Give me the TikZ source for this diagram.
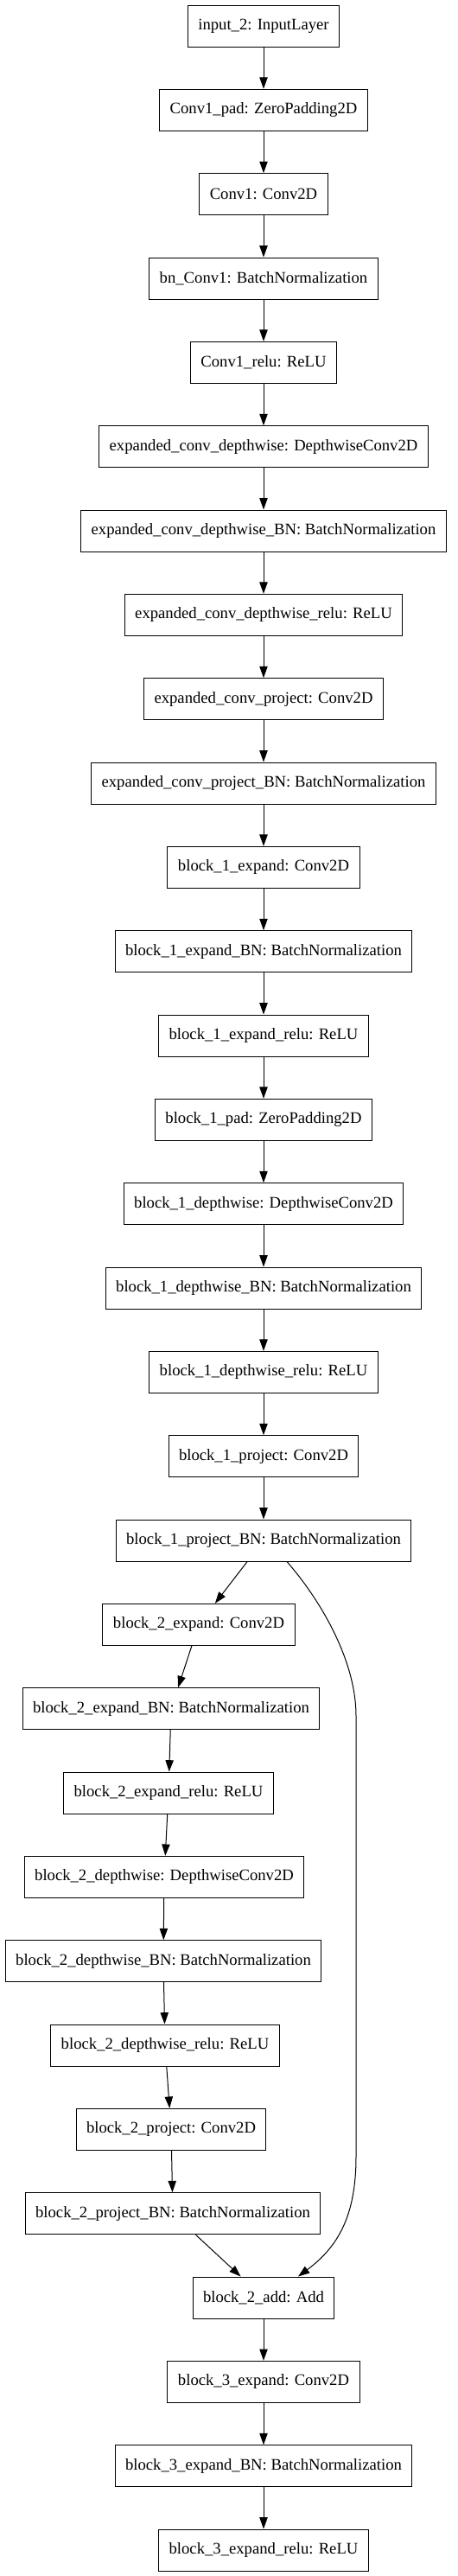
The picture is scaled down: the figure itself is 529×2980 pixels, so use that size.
\documentclass[tikz,border=0pt]{standalone}
\usepackage{fontspec}
\setmainfont{Liberation Serif}
\usepackage{tikz}
\usetikzlibrary{calc, arrows.meta}

\tikzset{
  layer/.style={draw, line width=0.75pt, minimum height=36pt, inner xsep=9pt, inner ysep=0pt,
    font=\fontsize{14}{16}\selectfont},
  edge/.style={line width=0.75pt, -{Triangle[length=10pt, width=7pt]}}
}

\begin{document}
\begin{tikzpicture}[x=0.75pt, y=-0.75pt]
  \useasboundingbox (0,0) rectangle (529,2980);
  % main chain
  \node[layer] (in2)       at (305,30)     {input\_2: InputLayer};
  \node[layer] (c1pad)     at (305,127.3)  {Conv1\_pad: ZeroPadding2D};
  \node[layer] (c1)        at (305,224.7)  {Conv1: Conv2D};
  \node[layer] (bnc1)      at (305,322)    {bn\_Conv1: BatchNormalization};
  \node[layer] (c1relu)    at (305,419.3)  {Conv1\_relu: ReLU};
  \node[layer] (ecdw)      at (305,516.7)  {expanded\_conv\_depthwise: DepthwiseConv2D};
  \node[layer] (ecdwbn)    at (305,614)    {expanded\_conv\_depthwise\_BN: BatchNormalization};
  \node[layer] (ecdwrelu)  at (305,711.3)  {expanded\_conv\_depthwise\_relu: ReLU};
  \node[layer] (ecproj)    at (305,808.7)  {expanded\_conv\_project: Conv2D};
  \node[layer] (ecprojbn)  at (305,906)    {expanded\_conv\_project\_BN: BatchNormalization};
  \node[layer] (b1exp)     at (305,1003.3) {block\_1\_expand: Conv2D};
  \node[layer] (b1expbn)   at (305,1100.7) {block\_1\_expand\_BN: BatchNormalization};
  \node[layer] (b1exprelu) at (305,1198)   {block\_1\_expand\_relu: ReLU};
  \node[layer] (b1pad)     at (305,1295.3) {block\_1\_pad: ZeroPadding2D};
  \node[layer] (b1dw)      at (305,1392.7) {block\_1\_depthwise: DepthwiseConv2D};
  \node[layer] (b1dwbn)    at (305,1490)   {block\_1\_depthwise\_BN: BatchNormalization};
  \node[layer] (b1dwrelu)  at (305,1587.3) {block\_1\_depthwise\_relu: ReLU};
  \node[layer] (b1proj)    at (305,1684.7) {block\_1\_project: Conv2D};
  \node[layer] (b1projbn)  at (305,1782)   {block\_1\_project\_BN: BatchNormalization};
  % block 2, shifted left
  \node[layer] (b2exp)     at (230,1879.3) {block\_2\_expand: Conv2D};
  \node[layer] (b2expbn)   at (198,1976.7) {block\_2\_expand\_BN: BatchNormalization};
  \node[layer] (b2exprelu) at (195,2074)   {block\_2\_expand\_relu: ReLU};
  \node[layer] (b2dw)      at (190,2171.3) {block\_2\_depthwise: DepthwiseConv2D};
  \node[layer] (b2dwbn)    at (189,2268.7) {block\_2\_depthwise\_BN: BatchNormalization};
  \node[layer] (b2dwrelu)  at (191,2366)   {block\_2\_depthwise\_relu: ReLU};
  \node[layer] (b2proj)    at (198,2463.3) {block\_2\_project: Conv2D};
  \node[layer] (b2projbn)  at (200,2560.7) {block\_2\_project\_BN: BatchNormalization};
  \node[layer] (b2add)     at (305,2658)   {block\_2\_add: Add};
  % block 3
  \node[layer] (b3exp)     at (305,2755.3) {block\_3\_expand: Conv2D};
  \node[layer] (b3expbn)   at (305,2852.7) {block\_3\_expand\_BN: BatchNormalization};
  \node[layer] (b3exprelu) at (305,2950)   {block\_3\_expand\_relu: ReLU};

  \draw[edge] (in2) -- (c1pad);
  \draw[edge] (c1pad) -- (c1);
  \draw[edge] (c1) -- (bnc1);
  \draw[edge] (bnc1) -- (c1relu);
  \draw[edge] (c1relu) -- (ecdw);
  \draw[edge] (ecdw) -- (ecdwbn);
  \draw[edge] (ecdwbn) -- (ecdwrelu);
  \draw[edge] (ecdwrelu) -- (ecproj);
  \draw[edge] (ecproj) -- (ecprojbn);
  \draw[edge] (ecprojbn) -- (b1exp);
  \draw[edge] (b1exp) -- (b1expbn);
  \draw[edge] (b1expbn) -- (b1exprelu);
  \draw[edge] (b1exprelu) -- (b1pad);
  \draw[edge] (b1pad) -- (b1dw);
  \draw[edge] (b1dw) -- (b1dwbn);
  \draw[edge] (b1dwbn) -- (b1dwrelu);
  \draw[edge] (b1dwrelu) -- (b1proj);
  \draw[edge] (b1proj) -- (b1projbn);
  \draw[edge] (b1projbn) -- (b2exp);
  \draw[edge] (b2exp) -- (b2expbn);
  \draw[edge] (b2expbn) -- (b2exprelu);
  \draw[edge] (b2exprelu) -- (b2dw);
  \draw[edge] (b2dw) -- (b2dwbn);
  \draw[edge] (b2dwbn) -- (b2dwrelu);
  \draw[edge] (b2dwrelu) -- (b2proj);
  \draw[edge] (b2proj) -- (b2projbn);
  \draw[edge] (b2projbn) -- (b2add);
  \draw[edge] (b2add) -- (b3exp);
  \draw[edge] (b3exp) -- (b3expbn);
  \draw[edge] (b3expbn) -- (b3exprelu);
  % skip connection
  \coordinate (skiptop) at (412,1985);
  \coordinate (skipbot) at (412,2495);
  \draw[edge] ($(b1projbn.south)+(27,0)$) .. controls (370,1850) and (412,1920) .. (skiptop)
    -- (skipbot) .. controls (412,2565) and (390,2600) .. ($(b2add.north)+(40,0)$);
\end{tikzpicture}
\end{document}
